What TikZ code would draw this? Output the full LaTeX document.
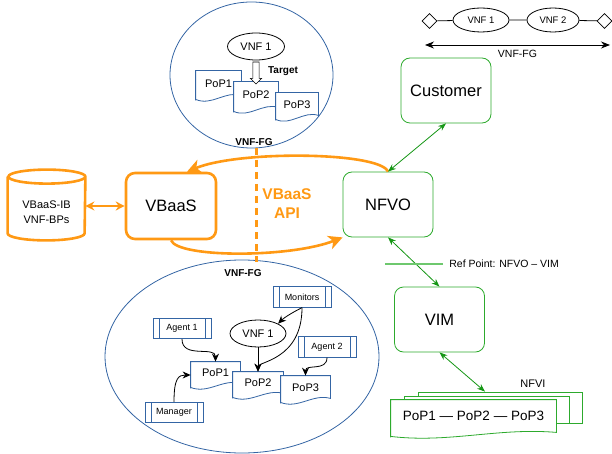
\documentclass[tikz,border=0pt]{standalone}
\usepackage{fontspec}
\setmainfont{Liberation Sans}
\usetikzlibrary{arrows.meta,shapes.geometric,shapes.arrows,calc}
\definecolor{vborange}{RGB}{255,153,20}
\definecolor{nfvgreen}{RGB}{45,170,45}
\definecolor{arrgreen}{RGB}{20,150,20}
\definecolor{refgreen}{RGB}{110,200,110}
\definecolor{fgblue}{RGB}{52,101,164}
% outline of a document shape with a wavy bottom
\newcommand\docoutline[1]{(#1.south west) -- (#1.north west) -- (#1.north east) -- ([yshift=5pt]#1.south east)
  .. controls ($(#1.south west)!.65!(#1.south east)+(0pt,10pt)$) and ($(#1.south west)!.35!(#1.south east)+(0pt,-6pt)$)
  .. ([yshift=1pt]#1.south west) -- cycle}
% name, x, y, width, height, text
\newcommand\popdoc[6]{%
  \node[docbox, minimum width=#4pt, minimum height=#5pt] (#1) at (#2,#3) {};
  \filldraw[docline] \docoutline{#1};
  \node[popfont] (#1t) at ([yshift=2pt]#1.center) {#6};}
\begin{document}
\begin{tikzpicture}[x=1pt, y=-1pt, line width=.8pt,
    bigfont/.style={font=\fontsize{16.5}{19}\selectfont},
    gbox/.style={draw=nfvgreen, rounded corners=9pt, minimum width=90pt, minimum height=65pt, bigfont},
    obox/.style={draw=vborange, line width=2.6pt, rounded corners=9pt, minimum width=90pt, minimum height=66pt, bigfont},
    vnf/.style={draw, ellipse, inner sep=0pt},
    fgarea/.style={draw=fgblue, ellipse, inner sep=0pt},
    proc/.style={draw=fgblue, minimum width=58pt, minimum height=20.5pt, inner sep=0pt,
      font=\fontsize{9}{10}\selectfont,
      path picture={\draw[fgblue, line width=.8pt]
        ([xshift=6pt]path picture bounding box.north west) -- ([xshift=6pt]path picture bounding box.south west)
        ([xshift=-6pt]path picture bounding box.north east) -- ([xshift=-6pt]path picture bounding box.south east);}},
    docbox/.style={inner sep=0pt},
    docline/.style={draw=fgblue, fill=white},
    popfont/.style={font=\fontsize{11}{13}\selectfont},
    fglabel/.style={font=\bfseries\fontsize{10}{12}\selectfont},
    barrow/.style={-{Stealth[length=8pt,width=7pt]}},
    garrow/.style={arrgreen, {Stealth[length=8pt,width=6pt]}-{Stealth[length=8pt,width=6pt]}},
    oarrow/.style={vborange, line width=2.6pt, -{Stealth[length=14pt,width=14pt,inset=4pt]}},
  ]
  \useasboundingbox (0,0) rectangle (612,454);

  % forwarding graph areas
  \node[fgarea, minimum width=163pt, minimum height=146pt] (fgtop) at (251.5,75) {};
  \node[fgarea, minimum width=274pt, minimum height=193pt] (fgbot) at (242,356.5) {};

  % top VNF-FG
  \node[vnf, minimum width=57pt, minimum height=27pt, popfont] (vnfa) at (256,46.5) {VNF 1};
  \popdoc{tpa}{218.5}{85.5}{45}{29}{PoP1}
  \popdoc{tpb}{256}{97}{44}{30}{PoP2}
  \popdoc{tpc}{297}{106.5}{42}{27}{PoP3}
  \node[single arrow, draw, fill=white, line width=.6pt, inner sep=2.8pt, single arrow head extend=2.5pt,
    minimum height=22pt, rotate=-90] (tarrow) at (256,71.5) {};
  \node[fglabel] (tgt) at (283,71) {Target};
  \node[fglabel] (fgla) at (254,142) {VNF-FG};

  % chain in the top right corner
  \node[draw, diamond, minimum width=15pt, minimum height=15pt, inner sep=0pt] (dl) at (429.5,21) {};
  \node[vnf, minimum width=56pt, minimum height=24pt, font=\fontsize{9.5}{11}\selectfont] (fa) at (481,20) {VNF 1};
  \node[vnf, minimum width=52pt, minimum height=24pt, font=\fontsize{9.5}{11}\selectfont] (fb) at (553,20) {VNF 2};
  \node[draw, diamond, minimum width=15pt, minimum height=15pt, inner sep=0pt] (dr) at (604.5,21) {};
  \draw (dl) -- (fa) -- (fb) -- (dr);
  \coordinate (fgl) at (425,45);
  \coordinate (fgr) at (610,45);
  \draw[{Stealth[length=9pt,width=7pt]}-{Stealth[length=9pt,width=7pt]}] (fgl) -- (fgr)
    node[midway, below=1pt, font=\fontsize{10.5}{12}\selectfont] {VNF-FG};

  % main blocks
  \node[gbox] (cust) at (446,90.5) {Customer};
  \node[gbox] (nfvo) at (388,204.5) {NFVO};
  \node[gbox] (vim) at (439.5,319.5) {VIM};
  \node[obox] (vbaas) at (171,206) {VBaaS};
  \node[align=center, font=\fontsize{11}{15}\selectfont, minimum width=77pt, minimum height=56pt, inner sep=0pt] (db) at (46.5,212) {VBaaS-IB\\VNF-BPs};
  \draw[vborange, line width=2.6pt] ([yshift=7pt]db.north west) -- ([yshift=7pt]db.south west)
    arc[start angle=180, end angle=360, x radius=38.5pt, y radius=7pt] -- ([yshift=7pt]db.north east)
    arc[start angle=0, end angle=360, x radius=38.5pt, y radius=7pt];

  % VBaaS API
  \draw[vborange, line width=3pt, dash pattern=on 7pt off 5pt] (256,148) -- (256,262);
  \node[align=center, text=vborange, font=\bfseries\fontsize{15.5}{19}\selectfont] (api) at (287,204) {VBaaS\\API};
  \draw[vborange, line width=2.2pt, {Stealth[length=9pt,width=9pt]}-{Stealth[length=9pt,width=9pt]}] (db.east |- vbaas.west) -- (vbaas.west);
  \draw[oarrow] (nfvo.north) .. controls (380,152) and (240,150) .. ([xshift=16pt]vbaas.north);
  \draw[oarrow] (vbaas.south) .. controls (178,258) and (290,258) .. (nfvo.south west);

  % green links
  \draw[garrow] (cust.south) -- (nfvo.north);
  \draw[garrow] (nfvo.south) -- (vim.north);
  \node[right, font=\fontsize{10.5}{12}\selectfont, inner sep=0pt] (refpt) at (449,264) {Ref Point: NFVO -- VIM};
  \draw[refgreen, line width=2pt] ([xshift=-6pt]refpt.west) -- ++(-58,0);

  % NFVI
  \node[draw=nfvgreen, fill=white, minimum width=164pt, minimum height=31pt, inner sep=0pt] (nfvic) at (500,407.5) {};
  \node[draw=nfvgreen, fill=white, minimum width=165pt, minimum height=27pt, inner sep=0pt] (nfvib) at (486.5,409.5) {};
  \node[inner sep=0pt, minimum width=165pt, minimum height=37pt] (nfvi) at (473.5,418.5) {};
  \filldraw[draw=nfvgreen, fill=white] \docoutline{nfvi};
  \node[font=\fontsize{13.5}{15}\selectfont] (nfvit) at ([yshift=3pt]nfvi.center) {PoP1 — PoP2 — PoP3};
  \node[font=\fontsize{11}{13}\selectfont] (nfvil) at (533,384) {NFVI};
  \draw[garrow] (vim.south) -- ([xshift=-15pt]nfvic.north);

  % bottom VNF-FG
  \node[fglabel] (fglb) at (243,273) {VNF-FG};
  \node[proc] (mon) at (302,297) {Monitors};
  \node[proc] (ag1) at (182,328.5) {Agent 1};
  \node[proc] (ag2) at (327,347) {Agent 2};
  \node[proc] (mgr) at (174,412.5) {Manager};
  \node[vnf, minimum width=56pt, minimum height=27pt, popfont] (vnfb) at (258,333.5) {VNF 1};
  \popdoc{pa}{215.5}{375}{49}{26}{PoP1}
  \popdoc{pb}{258}{385}{50}{26}{PoP2}
  \popdoc{pc}{305.5}{389.5}{49}{27}{PoP3}
  \draw[barrow] (ag1.south) .. controls +(0,20) and +(0,-16) .. (pa.north);
  \draw[barrow] (mgr.north) .. controls +(0,-24) and +(-12,0) .. (pa.west);
  \draw[barrow] (vnfb.south) -- (pb.north);
  \draw[barrow] (mon.south) .. controls +(-10,5) and +(6,-6) .. (vnfb.north east);
  \draw[barrow] (mon.south) .. controls +(0,52) and +(0,-10) .. (pb.north);
  \draw[barrow] (ag2.south) .. controls +(0,14) and +(0,-12) .. (pc.north);
\end{tikzpicture}
\end{document}
